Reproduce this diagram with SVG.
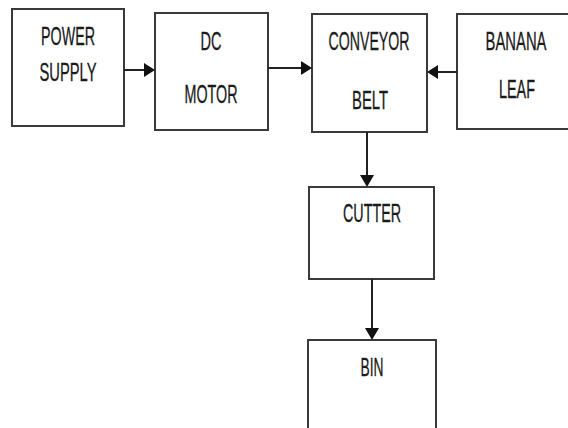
<svg xmlns="http://www.w3.org/2000/svg" width="568" height="428" viewBox="0 0 568 428">
<style>
.box{fill:#fff;stroke:#3a3a3a;stroke-width:2}
.t{font-family:"Liberation Sans",Arial,sans-serif;font-size:25px;fill:#1a1a1a;stroke:#1a1a1a;stroke-width:0.3;text-anchor:middle}
.c{stroke:#222;stroke-width:2;fill:none}
.h{fill:#111}
</style>
<rect width="568" height="428" fill="#fff"/>
<g id="power-supply">
<rect class="box" x="12" y="9" width="112" height="117"/>
<text class="t" x="68" y="45" textLength="54" lengthAdjust="spacingAndGlyphs">POWER</text>
<text class="t" x="68" y="81" textLength="57" lengthAdjust="spacingAndGlyphs">SUPPLY</text>
</g>
<g id="dc-motor">
<rect class="box" x="155" y="13" width="113" height="117"/>
<text class="t" x="211" y="50" textLength="21" lengthAdjust="spacingAndGlyphs">DC</text>
<text class="t" x="211" y="103" textLength="53" lengthAdjust="spacingAndGlyphs">MOTOR</text>
</g>
<g id="conveyor-belt">
<rect class="box" x="312" y="14" width="115" height="118"/>
<text class="t" x="369" y="50" textLength="81" lengthAdjust="spacingAndGlyphs">CONVEYOR</text>
<text class="t" x="370" y="109" textLength="36" lengthAdjust="spacingAndGlyphs">BELT</text>
</g>
<g id="banana-leaf">
<rect class="box" x="457" y="14" width="130" height="115"/>
<text class="t" x="516" y="50" textLength="61" lengthAdjust="spacingAndGlyphs">BANANA</text>
<text class="t" x="517" y="98" textLength="36" lengthAdjust="spacingAndGlyphs">LEAF</text>
</g>
<g id="cutter">
<rect class="box" x="309" y="187" width="125" height="92"/>
<text class="t" x="372" y="222" textLength="58" lengthAdjust="spacingAndGlyphs">CUTTER</text>
</g>
<g id="bin">
<rect class="box" x="308" y="340" width="128" height="100"/>
<text class="t" x="372" y="376" textLength="23" lengthAdjust="spacingAndGlyphs">BIN</text>
</g>
<g id="connectors">
<line class="c" x1="124" y1="70" x2="145" y2="70"/>
<polygon class="h" points="144,63 155,70 144,77"/>
<line class="c" x1="268" y1="68" x2="302" y2="68"/>
<polygon class="h" points="301,61 312,68 301,75"/>
<line class="c" x1="457" y1="72" x2="437" y2="72"/>
<polygon class="h" points="438,65 427,72 438,79"/>
<line class="c" x1="367" y1="132" x2="367" y2="176"/>
<polygon class="h" points="360,175 367,187 374,175"/>
<line class="c" x1="372" y1="279" x2="372" y2="329"/>
<polygon class="h" points="365,328 372,340 379,328"/>
</g>
</svg>
